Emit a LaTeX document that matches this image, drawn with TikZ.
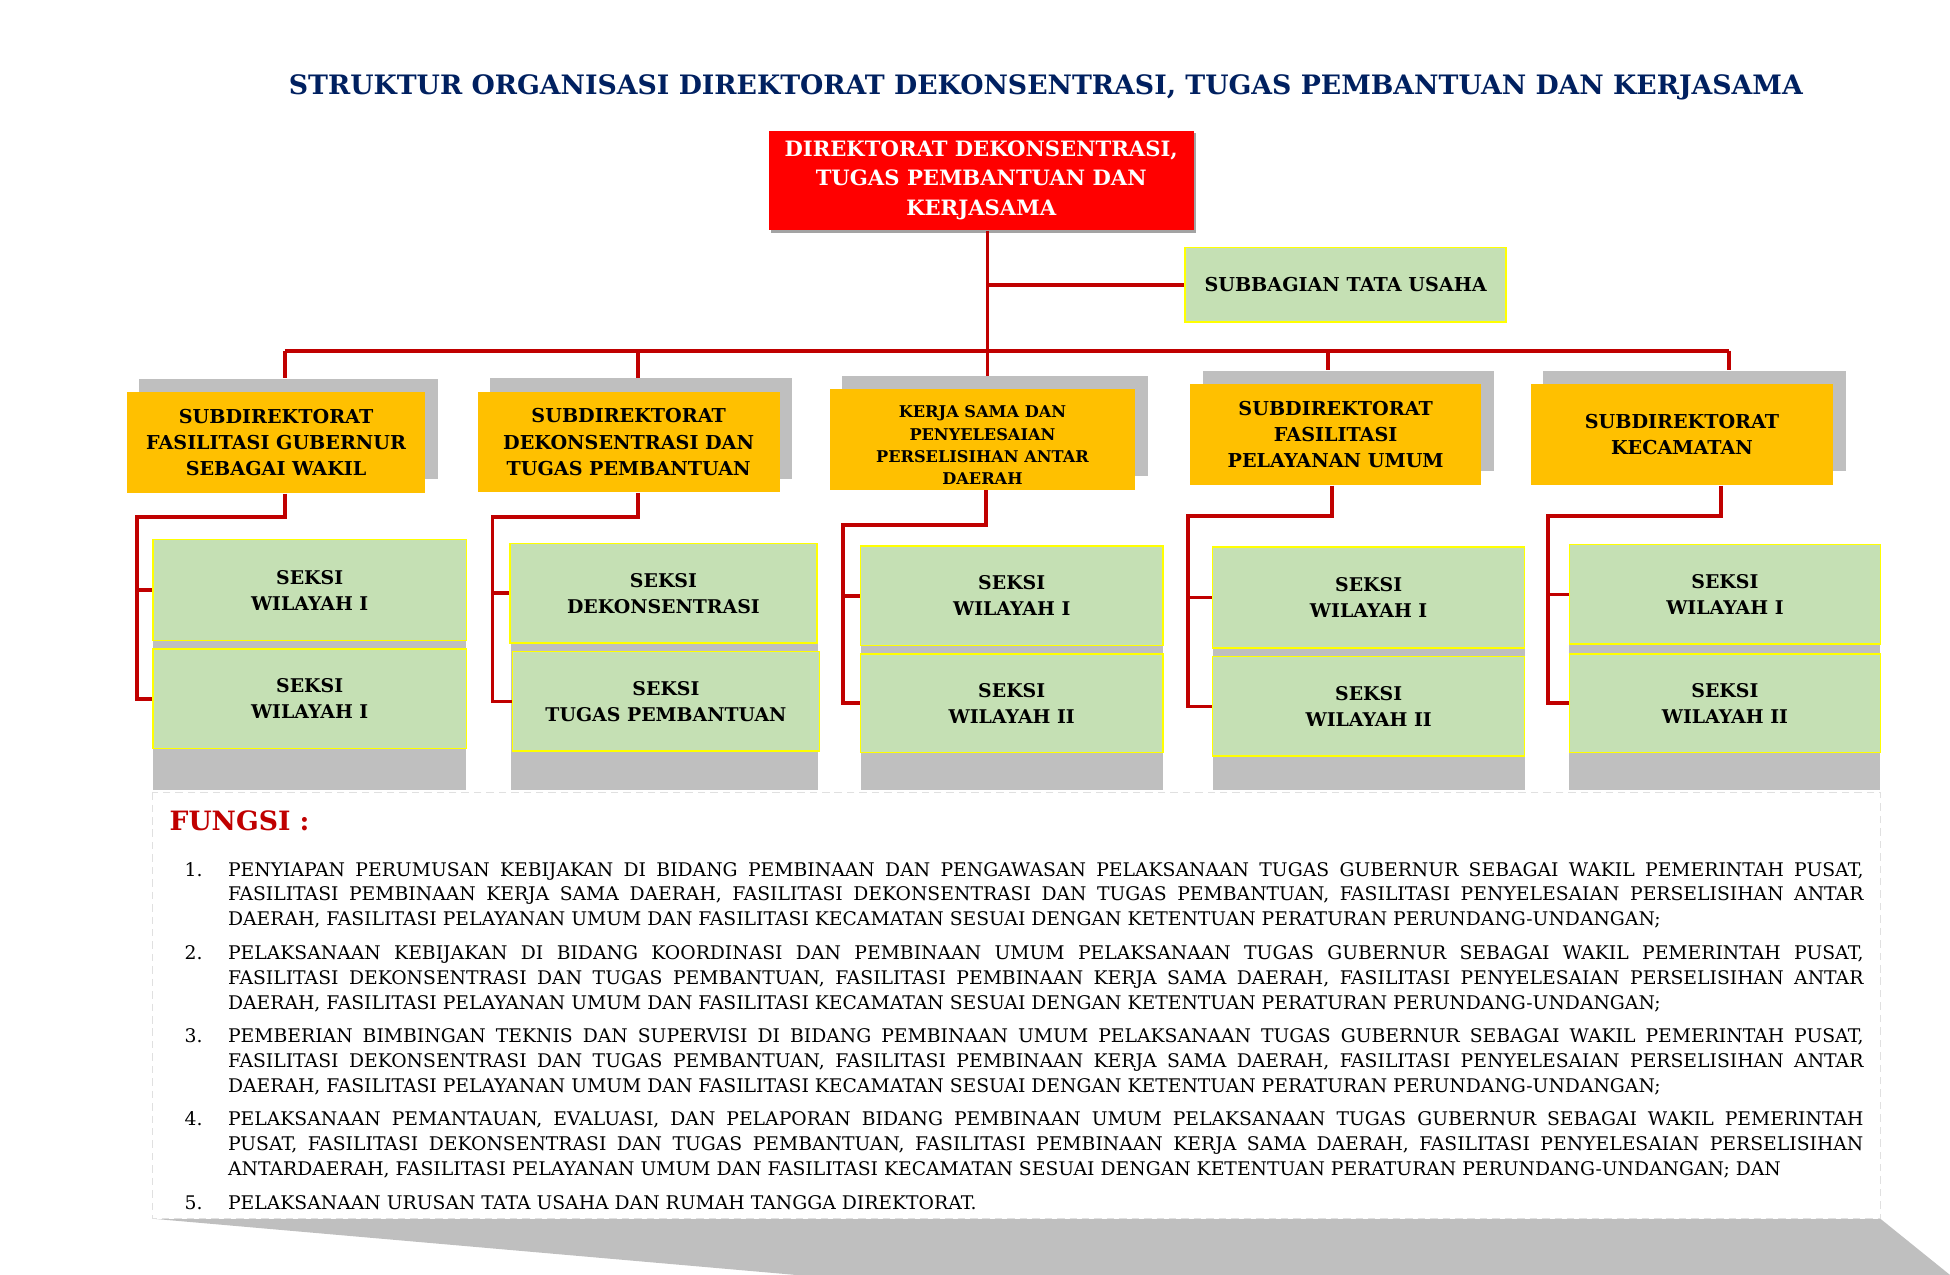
\documentclass[tikz,border=0pt]{standalone}
\usepackage{fontspec}
\setmainfont{DejaVu Serif}
\usetikzlibrary{shadows}
\definecolor{TitleNavy}{HTML}{002060}
\definecolor{DirRed}{HTML}{FF0000}
\definecolor{LineRed}{HTML}{C00000}
\definecolor{SubYellow}{HTML}{FFC000}
\definecolor{SeksiGreen}{HTML}{C5E0B4}
\definecolor{BoxEdge}{HTML}{FFFF00}
\definecolor{ShadowGray}{HTML}{BFBFBF}
\tikzset{
  conn/.style={LineRed, line width=1.5pt},
  dirbox/.style={fill=DirRed, text=white, align=center,
    font=\bfseries\fontsize{8.5}{11.75}\selectfont,
    minimum width=171pt, minimum height=40pt,
    drop shadow={shadow xshift=1pt, shadow yshift=-1pt, fill=black!60, opacity=.6}},
  tatabox/.style={fill=SeksiGreen, draw=BoxEdge, line width=.6pt, align=center,
    font=\bfseries\fontsize{7.7}{10}\selectfont},
  subbox/.style={fill=SubYellow, align=center, minimum height=40.5pt,
    font=\bfseries\fontsize{7.7}{10.5}\selectfont,
    general shadow={fill=ShadowGray, shadow xshift=5pt, shadow yshift=5.5pt}},
  seksibox/.style={fill=SeksiGreen, draw=BoxEdge, line width=.6pt, align=center,
    font=\bfseries\fontsize{7.6}{10.5}\selectfont},
}
\newcommand{\fitem}[2]{\par\hangindent=17.5pt\hangafter=1\noindent\makebox[17.5pt][l]{#1}#2\par}

\begin{document}
\begin{tikzpicture}[x=0.5pt, y=-0.5pt]
    \useasboundingbox (0,0) rectangle (1568,1025.2);
    % Title
    \node[TitleNavy, font=\bfseries\fontsize{10.75}{13}\selectfont] (title) at (841,70)
    {STRUKTUR ORGANISASI DIREKTORAT DEKONSENTRASI, TUGAS PEMBANTUAN DAN KERJASAMA};
    % Direktorat
    \node[dirbox] (dir) at (789,145)
    {DIREKTORAT DEKONSENTRASI,\\TUGAS PEMBANTUAN DAN\\KERJASAMA};
    \node[tatabox, minimum width=129pt, minimum height=30pt] (tata) at (1082,229)
    {SUBBAGIAN TATA USAHA};
    % Backgrounds of the sections
    \fill[ShadowGray] (123,434) rectangle (375,635);
    \fill[ShadowGray] (411,437) rectangle (658,635);
    \fill[ShadowGray] (692,439) rectangle (935,635);
    \fill[ShadowGray] (975,440) rectangle (1226,635);
    \fill[ShadowGray] (1262,438) rectangle (1512,635);
    % Subdirektorat
    \node[subbox, minimum width=120pt] (sub1) at (222,356)
    {SUBDIREKTORAT\\FASILITASI GUBERNUR\\SEBAGAI WAKIL};
    \node[subbox, minimum width=121.5pt] (sub2) at (505.5,355.5)
    {SUBDIREKTORAT\\DEKONSENTRASI DAN\\TUGAS PEMBANTUAN};
    \node[subbox, minimum width=123pt, path picture={
      \node[align=center, font=\bfseries\fontsize{6.5}{9}\selectfont] (sub3text)
      at ([yshift=-2.25pt]path picture bounding box.center)
      {KERJA SAMA DAN\\PENYELESAIAN\\PERSELISIHAN ANTAR\\DAERAH};}] (sub3) at (790,353.5) {};
    \node[subbox, minimum width=117pt] (sub4) at (1074,349.5)
    {SUBDIREKTORAT\\FASILITASI\\PELAYANAN UMUM};
    \node[subbox, minimum width=121.5pt] (sub5) at (1352.5,349.5)
    {SUBDIREKTORAT\\KECAMATAN};
    % Seksi
    \node[seksibox, minimum width=126pt, minimum height=40.5pt] (s1a) at (249,474.5) {SEKSI\\WILAYAH I};
    \node[seksibox, minimum width=126pt, minimum height=40pt] (s1b) at (249,562) {SEKSI\\WILAYAH I};
    \node[seksibox, minimum width=123.5pt, minimum height=40pt] (s2a) at (533.5,477) {SEKSI\\DEKONSENTRASI};
    \node[seksibox, minimum width=123.5pt, minimum height=40pt] (s2b) at (535.5,564) {SEKSI\\TUGAS PEMBANTUAN};
    \node[seksibox, minimum width=121.5pt, minimum height=40pt] (s3a) at (813.5,479) {SEKSI\\WILAYAH I};
    \node[seksibox, minimum width=121.5pt, minimum height=39.5pt] (s3b) at (813.5,565.5) {SEKSI\\WILAYAH II};
    \node[seksibox, minimum width=125.5pt, minimum height=40.5pt] (s4a) at (1100.5,480.5) {SEKSI\\WILAYAH I};
    \node[seksibox, minimum width=125.5pt, minimum height=40pt] (s4b) at (1100.5,568) {SEKSI\\WILAYAH II};
    \node[seksibox, minimum width=125pt, minimum height=40pt] (s5a) at (1387,478) {SEKSI\\WILAYAH I};
    \node[seksibox, minimum width=125pt, minimum height=39.5pt] (s5b) at (1387,565.5) {SEKSI\\WILAYAH II};
    % Lines from the top
    \coordinate (trunk) at (794,188);
    \coordinate (bus1) at (229,282);
    \coordinate (bus2) at (513,282);
    \coordinate (bus4) at (1068,282);
    \coordinate (bus5) at (1390,282);
    \draw[conn] (trunk |- dir.south) -- ([yshift=5pt]trunk |- sub3.north);
    \draw[conn] (trunk |- tata.west) -- (tata.west);
    \draw[conn] (bus1) -- (bus5);
    \draw[conn] (bus1) -- ([yshift=5.5pt]bus1 |- sub1.north);
    \draw[conn] (bus2) -- ([yshift=5.5pt]bus2 |- sub2.north);
    \draw[conn] (bus4) -- ([yshift=5.5pt]bus4 |- sub4.north);
    \draw[conn] (bus5) -- ([yshift=5.5pt]bus5 |- sub5.north);
    % Lines to the seksi
    \coordinate (t1) at (229,416);  \coordinate (k1) at (110,416);
    \coordinate (t2) at (513,416);  \coordinate (k2) at (396,416);
    \coordinate (t3) at (793,422);  \coordinate (k3) at (678,422);
    \coordinate (t4) at (1071,415); \coordinate (k4) at (955,415);
    \coordinate (t5) at (1384,415); \coordinate (k5) at (1245,415);
    \draw[conn] (t1 |- sub1.south) -- (t1) -- (k1) |- (s1b.west);
    \draw[conn] (k1 |- s1a.west) -- (s1a.west);
    \draw[conn] (t2 |- sub2.south) -- (t2) -- (k2) |- (s2b.west);
    \draw[conn] (k2 |- s2a.west) -- (s2a.west);
    \draw[conn] (t3 |- sub3.south) -- (t3) -- (k3) |- (s3b.west);
    \draw[conn] (k3 |- s3a.west) -- (s3a.west);
    \draw[conn] (t4 |- sub4.south) -- (t4) -- (k4) |- (s4b.west);
    \draw[conn] (k4 |- s4a.west) -- (s4a.west);
    \draw[conn] (t5 |- sub5.south) -- (t5) -- (k5) |- (s5b.west);
    \draw[conn] (k5 |- s5a.west) -- (s5a.west);
    % Fungsi
    \fill[ShadowGray] (123,980) -- (1512,980) -- (1568,1025.2) -- (640,1025.2) -- cycle;
    \draw[black!12, densely dashed, fill=white] (123,637) rectangle (1512,980);
    \node[LineRed, anchor=west, inner sep=0pt, font=\bfseries\fontsize{10.7}{13}\selectfont] (fungsi) at (136,660) {FUNGSI :};
    \node[anchor=north west, inner sep=0pt, text width=675pt, align=justify,
      font=\fontsize{7.55}{10}\selectfont] (list) at (148,677) {%
      \parskip=3.5pt \hyphenpenalty=10000 \tolerance=10000
      \fitem{1.}{PENYIAPAN PERUMUSAN KEBIJAKAN DI BIDANG PEMBINAAN DAN PENGAWASAN PELAKSANAAN TUGAS GUBERNUR SEBAGAI WAKIL PEMERINTAH PUSAT,\linebreak
        FASILITASI PEMBINAAN KERJA SAMA DAERAH, FASILITASI DEKONSENTRASI DAN TUGAS PEMBANTUAN, FASILITASI PENYELESAIAN PERSELISIHAN ANTAR\linebreak
        DAERAH, FASILITASI PELAYANAN UMUM DAN FASILITASI KECAMATAN SESUAI DENGAN KETENTUAN PERATURAN PERUNDANG-UNDANGAN;}
      \fitem{2.}{PELAKSANAAN KEBIJAKAN DI BIDANG KOORDINASI DAN PEMBINAAN UMUM PELAKSANAAN TUGAS GUBERNUR SEBAGAI WAKIL PEMERINTAH PUSAT,\linebreak
        FASILITASI DEKONSENTRASI DAN TUGAS PEMBANTUAN, FASILITASI PEMBINAAN KERJA SAMA DAERAH, FASILITASI PENYELESAIAN PERSELISIHAN ANTAR\linebreak
        DAERAH, FASILITASI PELAYANAN UMUM DAN FASILITASI KECAMATAN SESUAI DENGAN KETENTUAN PERATURAN PERUNDANG-UNDANGAN;}
      \fitem{3.}{PEMBERIAN BIMBINGAN TEKNIS DAN SUPERVISI DI BIDANG PEMBINAAN UMUM PELAKSANAAN TUGAS GUBERNUR SEBAGAI WAKIL PEMERINTAH PUSAT,\linebreak
        FASILITASI DEKONSENTRASI DAN TUGAS PEMBANTUAN, FASILITASI PEMBINAAN KERJA SAMA DAERAH, FASILITASI PENYELESAIAN PERSELISIHAN ANTAR\linebreak
        DAERAH, FASILITASI PELAYANAN UMUM DAN FASILITASI KECAMATAN SESUAI DENGAN KETENTUAN PERATURAN PERUNDANG-UNDANGAN;}
      \fitem{4.}{PELAKSANAAN PEMANTAUAN, EVALUASI, DAN PELAPORAN BIDANG PEMBINAAN UMUM PELAKSANAAN TUGAS GUBERNUR SEBAGAI WAKIL PEMERINTAH\linebreak
        PUSAT, FASILITASI DEKONSENTRASI DAN TUGAS PEMBANTUAN, FASILITASI PEMBINAAN KERJA SAMA DAERAH, FASILITASI PENYELESAIAN PERSELISIHAN\linebreak
        ANTARDAERAH, FASILITASI PELAYANAN UMUM DAN FASILITASI KECAMATAN SESUAI DENGAN KETENTUAN PERATURAN PERUNDANG-UNDANGAN; DAN}
      \fitem{5.}{PELAKSANAAN URUSAN TATA USAHA DAN RUMAH TANGGA DIREKTORAT.}};
\end{tikzpicture}
\end{document}
